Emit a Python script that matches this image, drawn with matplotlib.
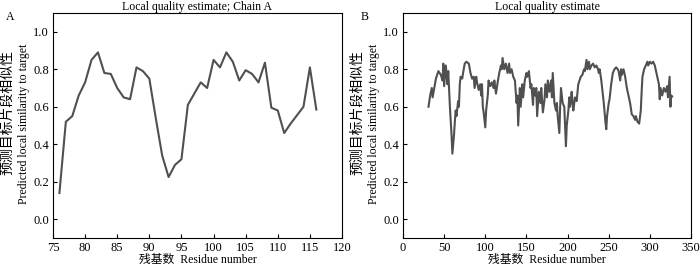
import matplotlib
matplotlib.use("Agg")
import matplotlib.pyplot as plt

plt.rcParams['font.family'] = ['Liberation Serif', 'Noto Sans CJK SC']
plt.rcParams['font.size'] = 8

# Panel A data
res_a = list(range(76, 117))
val_a = [0.14, 0.52, 0.55, 0.66, 0.73, 0.85, 0.89, 0.78, 0.775, 0.70,
         0.65, 0.64, 0.81, 0.79, 0.75, 0.54, 0.34, 0.225, 0.29, 0.32,
         0.61, 0.67, 0.73, 0.70, 0.85, 0.81, 0.89, 0.84, 0.74, 0.795,
         0.775, 0.73, 0.835, 0.595, 0.58, 0.46, 0.51, 0.555, 0.60, 0.81,
         0.585]

# Panel B data
res_b = [31, 33, 35, 36, 40, 43, 46, 48, 49, 50, 52, 54, 55, 56, 57, 59, 60,
         62, 63, 64, 65, 67, 68, 69, 70, 72, 73, 75, 77, 80, 82, 84, 86, 87,
         89, 90, 92, 94, 95, 96, 97, 98, 100, 101, 103, 104, 106, 108, 110,
         111, 113, 115, 117, 119, 120, 121, 123, 125, 127, 129, 130, 132, 134,
         136, 138, 139, 140, 142, 143, 145, 146, 148, 150, 151, 153, 155, 156,
         158, 159, 161, 162, 163, 165, 167, 168, 170, 172, 173, 175, 176, 178,
         180, 181, 182, 184, 186, 187, 188, 190, 191, 192, 194, 196, 197, 198,
         199, 201, 202, 203, 205, 206, 207, 209, 211, 213, 216, 218, 220, 221,
         223, 224, 226, 227, 229, 231, 233, 235, 237, 238, 239, 241, 242, 244,
         246, 247, 248, 250, 251, 253, 255, 257, 259, 261, 262, 264, 265, 266,
         268, 270, 272, 274, 276, 278, 280, 282, 283, 285, 287, 289, 290, 291,
         293, 295, 297, 298, 300, 302, 304, 306, 307, 309, 311, 312, 313, 315,
         317, 319, 321, 322, 324, 325, 326, 327]
val_b = [0.60, 0.66, 0.70, 0.65, 0.75, 0.79, 0.77, 0.74, 0.83, 0.71, 0.82,
         0.72, 0.79, 0.70, 0.60, 0.45, 0.35, 0.45, 0.52, 0.58, 0.55, 0.63,
         0.60, 0.72, 0.76, 0.75, 0.78, 0.83, 0.84, 0.83, 0.78, 0.75, 0.76,
         0.70, 0.76, 0.73, 0.69, 0.72, 0.66, 0.72, 0.60, 0.57, 0.49, 0.58,
         0.66, 0.74, 0.71, 0.73, 0.70, 0.74, 0.67, 0.73, 0.78, 0.82, 0.80,
         0.86, 0.80, 0.83, 0.78, 0.83, 0.78, 0.80, 0.76, 0.74, 0.62, 0.66,
         0.50, 0.70, 0.60, 0.72, 0.65, 0.74, 0.78, 0.76, 0.79, 0.70, 0.72,
         0.61, 0.70, 0.66, 0.70, 0.55, 0.68, 0.62, 0.70, 0.57, 0.64, 0.72,
         0.65, 0.74, 0.68, 0.74, 0.65, 0.78, 0.62, 0.58, 0.62, 0.55, 0.46,
         0.60, 0.70, 0.62, 0.60, 0.50, 0.39, 0.50, 0.58, 0.65, 0.60, 0.68,
         0.62, 0.58, 0.65, 0.63, 0.72, 0.76, 0.77, 0.80, 0.79, 0.85, 0.80,
         0.84, 0.80, 0.82, 0.83, 0.81, 0.82, 0.80, 0.78, 0.80, 0.74, 0.70,
         0.62, 0.52, 0.48, 0.55, 0.62, 0.64, 0.72, 0.78, 0.80, 0.81, 0.80,
         0.79, 0.74, 0.80, 0.77, 0.80, 0.76, 0.70, 0.66, 0.62, 0.56, 0.55,
         0.53, 0.55, 0.52, 0.51, 0.58, 0.68, 0.76, 0.80, 0.82, 0.84, 0.82,
         0.84, 0.83, 0.84, 0.82, 0.80, 0.76, 0.72, 0.64, 0.70, 0.66, 0.70,
         0.68, 0.71, 0.65, 0.76, 0.60, 0.66, 0.655]

xticks_a = [75, 80, 85, 90, 95, 100, 105, 110, 115, 120]
xticks_b = [0, 50, 100, 150, 200, 250, 300, 350]
yticks = [0.0, 0.2, 0.4, 0.6, 0.8, 1.0]

line_color = '#505050'

fig = plt.figure(figsize=(7, 2.66), dpi=100)
ax1 = fig.add_axes([53/700, 28/266, 289/700, 225/266])
ax2 = fig.add_axes([403/700, 28/266, 288/700, 225/266])

ax1.plot(res_a, val_a, color=line_color, lw=1.5)
ax2.plot(res_b, val_b, color=line_color, lw=1.5)

for ax, xt, xl, title in [(ax1, xticks_a, (75, 120), 'Local quality estimate; Chain A'),
                          (ax2, xticks_b, (0, 350), 'Local quality estimate')]:
    ax.set_xlim(*xl)
    ax.set_ylim(-0.1, 1.1)
    ax.set_xticks(xt)
    ax.set_xticklabels([str(v) for v in xt])
    ax.set_yticks(yticks)
    ax.set_yticklabels([f'{v:.1f}' for v in yticks])
    ax.tick_params(direction='in', length=3, width=0.8, labelsize=9, pad=3,
                   top=False, right=False)
    for s in ax.spines.values():
        s.set_linewidth(0.8)
    ax.set_title(title, fontsize=8.5, pad=1)
    ax.set_xlabel('残基数  Residue number', fontsize=8.5, labelpad=0)

# y labels (two lines)
for x0 in (8/700, 358/700):
    fig.text(x0, 1 - 113/266, '预测目标片段相似性', rotation=90,
             ha='center', va='center', fontsize=10)
for x0 in (24/700, 374/700):
    fig.text(x0, 1 - 124/266, 'Predicted local similarity to target', rotation=90,
             ha='center', va='center', fontsize=8.5)

fig.text(10/700, 1 - 17/266, 'A', ha='center', va='center', fontsize=8.5)
fig.text(365/700, 1 - 17/266, 'B', ha='center', va='center', fontsize=8.5)

fig.savefig('out.png', dpi=100)
